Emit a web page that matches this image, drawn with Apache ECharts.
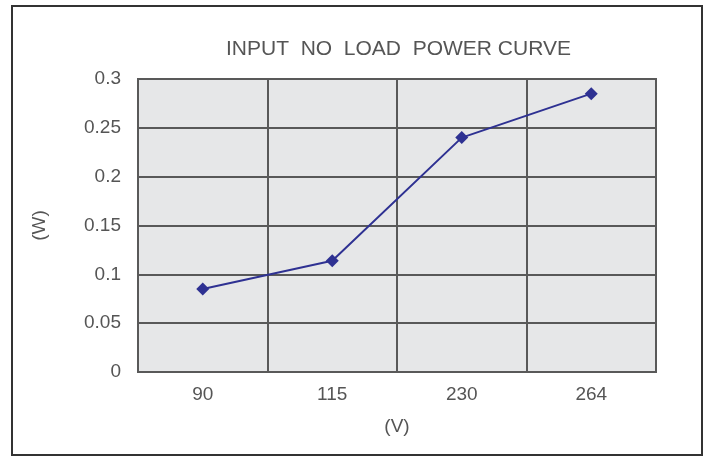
<!DOCTYPE html>
<html>
<head>
<meta charset="utf-8">
<script src="https://cdn.jsdelivr.net/npm/echarts@6/dist/echarts.min.js"></script>
<style>
  html, body { margin: 0; padding: 0; background: #fff; }
  #chart { width: 704px; height: 457px; }
</style>
</head>
<body>
<div id="chart"></div>
<script>
  // input voltage (V) vs no-load power (W)
  const voltages = ['90', '115', '230', '264'];
  const power = [0.085, 0.114, 0.240, 0.285];

  const textColor = '#555';
  const gridColor = '#595959';
  const font = 'Liberation Sans, Arial, sans-serif';

  const myChart = echarts.init(document.getElementById('chart'));

  myChart.setOption({
    animation: false,
    title: {
      text: 'INPUT  NO  LOAD  POWER CURVE',
      left: 221,
      top: 34,
      textStyle: { color: textColor, fontSize: 21, fontWeight: 'normal', fontFamily: font }
    },
    graphic: [{
      type: 'rect',
      shape: { x: 12, y: 6, width: 690, height: 449 },
      style: { fill: 'none', stroke: '#333', lineWidth: 2 },
      silent: true
    }],
    grid: {
      left: 138,
      right: 48,
      top: 79,
      bottom: 85,
      show: true,
      backgroundColor: '#e6e7e8',
      borderColor: gridColor,
      borderWidth: 2
    },
    xAxis: {
      type: 'category',
      data: voltages,
      boundaryGap: true,
      name: '(V)',
      nameLocation: 'middle',
      nameGap: 45,
      nameTextStyle: { color: textColor, fontSize: 19, fontFamily: font },
      axisLine: { show: false },
      axisTick: { show: false },
      axisLabel: { color: textColor, fontSize: 19, fontFamily: font, margin: 13 },
      splitLine: { show: true, lineStyle: { color: gridColor, width: 2 } }
    },
    yAxis: {
      type: 'value',
      min: 0,
      max: 0.3,
      interval: 0.05,
      name: '(W)',
      nameLocation: 'middle',
      nameGap: 89,
      nameTextStyle: { color: textColor, fontSize: 19, fontFamily: font },
      axisLine: { show: false },
      axisTick: { show: false },
      axisLabel: { color: textColor, fontSize: 19, fontFamily: font, margin: 17 },
      splitLine: { show: true, lineStyle: { color: gridColor, width: 2 } }
    },
    series: [{
      type: 'line',
      data: power,
      symbol: 'diamond',
      symbolSize: 13,
      lineStyle: { color: '#2e3192', width: 2 },
      itemStyle: { color: '#2e3192' }
    }]
  });
</script>
</body>
</html>
